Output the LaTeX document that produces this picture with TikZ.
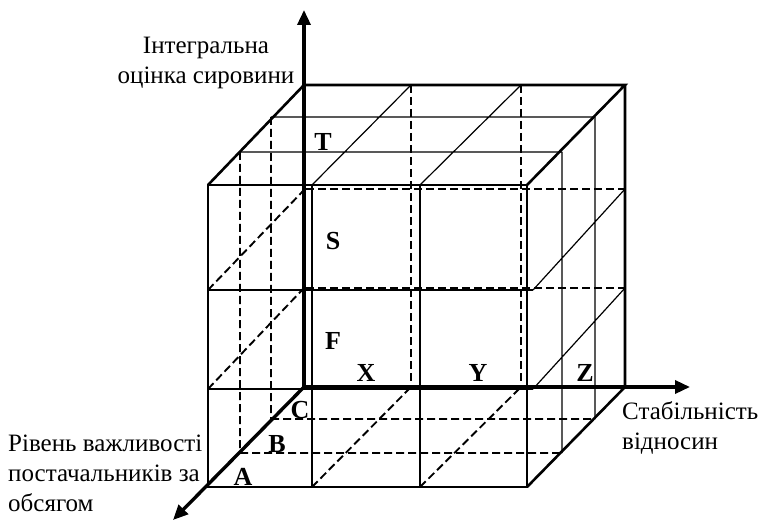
\documentclass[tikz,border=0pt]{standalone}
\usepackage{fontspec}
\setmainfont{Liberation Serif}
\usetikzlibrary{arrows.meta}
\begin{document}
\begin{tikzpicture}[x=1pt,y=-1pt,
  thickedge/.style={line width=2.6pt, line join=miter},
  thinline/.style={line width=1.2pt},
  hidden/.style={line width=1.9pt, dash pattern=on 8pt off 4pt},
  axisline/.style={line width=3.4pt, -{Triangle[length=15pt,width=13pt]}},
  lbl/.style={font=\fontsize{25}{30}\selectfont, inner sep=0pt, align=left},
  cellname/.style={font=\fontsize{26}{28}\selectfont\bfseries, inner sep=0pt}]
\useasboundingbox (0,0) rectangle (760,521);
\fill[white] (0,0) rectangle (760,521);
% axes points
\coordinate (O) at (304,387);
\coordinate (ztip) at (304,10);
\coordinate (xtip) at (690,387);
\coordinate (ytip) at (173,520);
% thin solid grid lines
\draw[thinline] (240,152)--(562,152) (271,117)--(595,117)
  (312,185)--(411,85) (420,185)--(521,85);
\draw[thinline] (312,185)--(312,487) (420,185)--(420,487)
  (208,290)--(533,290) (208,389)--(533,389);
\draw[thinline] (562,152)--(562,453) (595,117)--(595,419)
  (533,290)--(625,189) (533,389)--(625,288);
% hidden (dashed) lines
\draw[hidden] (240,152)--(240,453) (271,117)--(271,419)
  (208,290)--(304,190) (208,389)--(304,288);
\draw[hidden] (240,453)--(562,453) (271,419)--(595,419)
  (312,487)--(411,387) (420,487)--(521,387);
\draw[hidden] (306,189)--(625,189) (306,288)--(625,288);
\draw[hidden, line width=2.5pt] (411,85)--(411,387) (521,85)--(521,387);
% outer edges
\draw[thickedge] (208,185) rectangle (527,487);
\draw[thickedge] (208,185)--(304,85)--(625,85)--(527,185);
\draw[thickedge] (625,85)--(625,387)--(527,487);
% axes
\draw[axisline] (O)--(ztip);
\draw[axisline] (O)--(xtip);
\draw[axisline] (O)--(ytip);
% labels
\node[lbl, align=center] (zl) at (206,63) {Інтегральна\\оцінка сировини};
\node[lbl, anchor=north west] (yl) at (8,435) {Рівень важливості\\постачальників за\\обсягом};
\node[lbl, anchor=north west] (xl) at (622,401) {Стабільність\\відносин};
% cell letters
\node[cellname] (T) at (323,142) {T};
\node[cellname] (S) at (333,241) {S};
\node[cellname] (F) at (333,341) {F};
\node[cellname] (X) at (366,373) {X};
\node[cellname] (Y) at (478,373) {Y};
\node[cellname] (Z) at (585,373) {Z};
\node[cellname] (C) at (300,410) {C};
\node[cellname] (B) at (277,444) {B};
\node[cellname] (A) at (243,477) {A};
\end{tikzpicture}
\end{document}
